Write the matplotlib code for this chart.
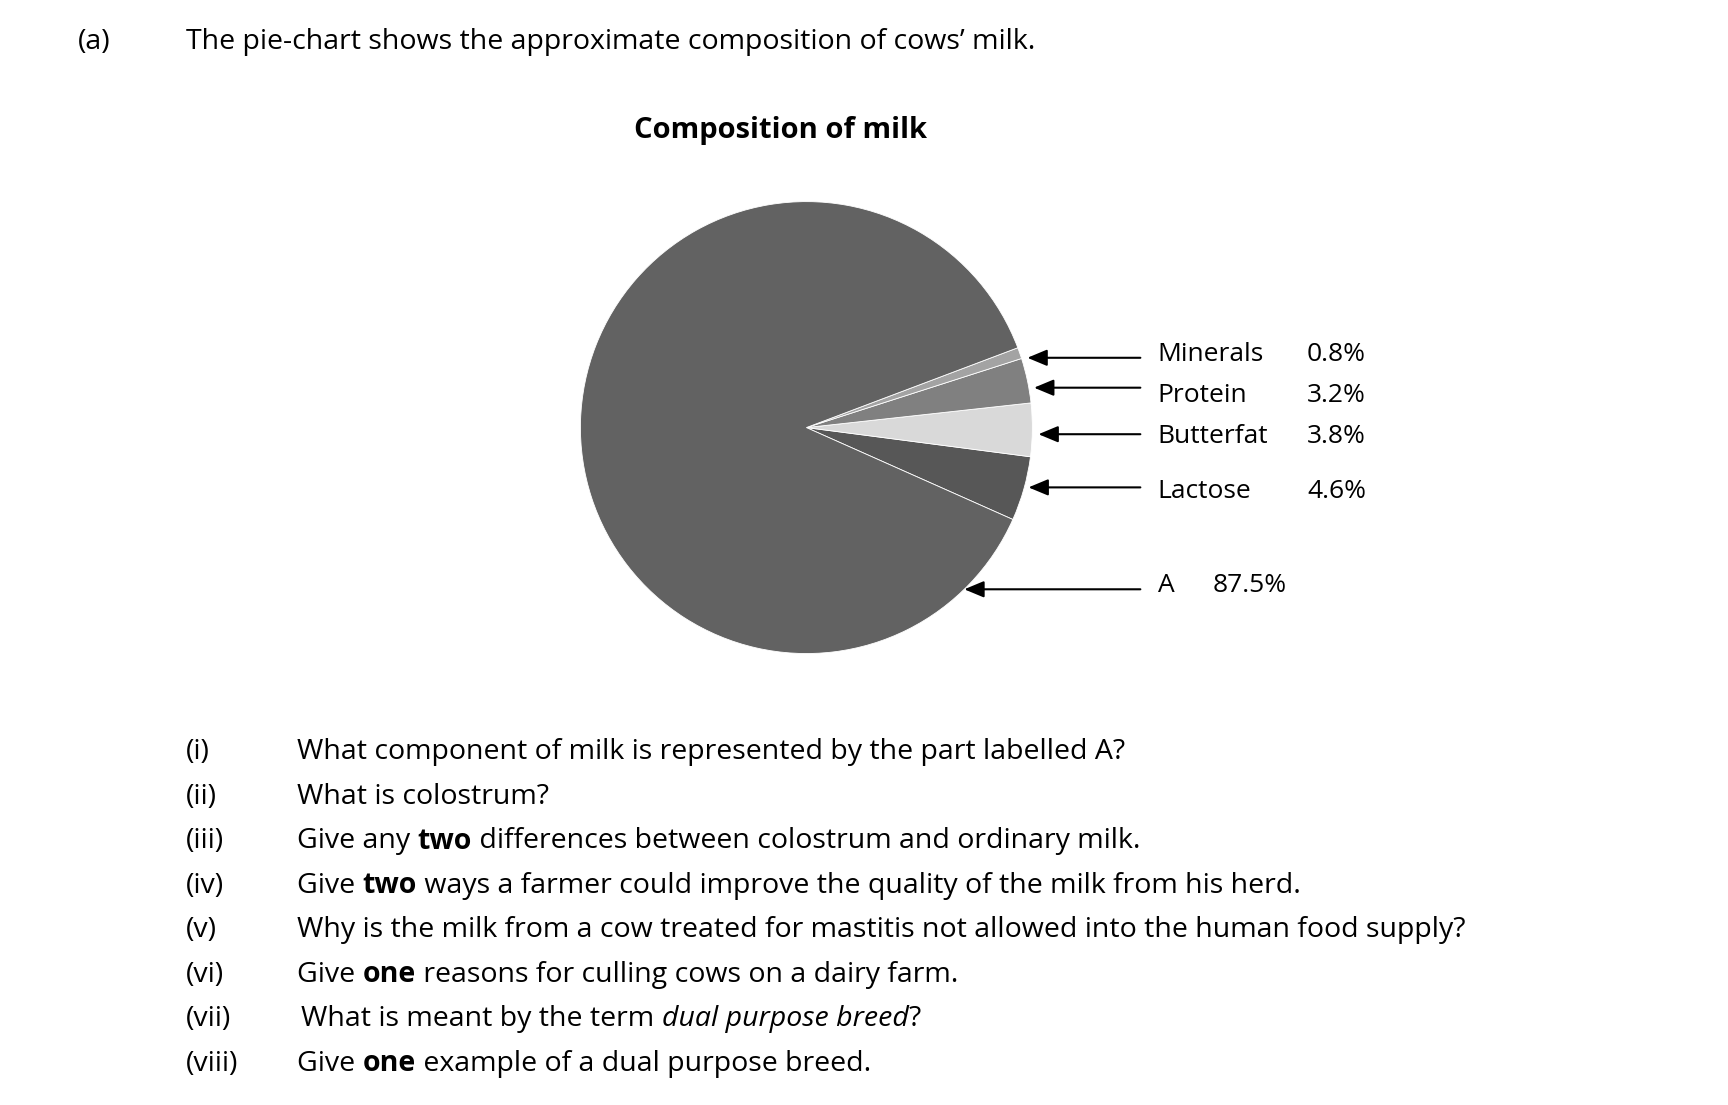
import matplotlib
matplotlib.use("Agg")
import matplotlib.pyplot as plt

components = ["Lactose", "Butterfat", "Protein", "Minerals", "A"]
values = [4.6, 3.8, 3.2, 0.8, 87.5]
colors = ["#575757", "#d9d9d9", "#808080", "#a3a3a3", "#626262"]
label_names = ["Minerals", "Protein", "Butterfat", "Lactose", "A"]
label_pcts = ["0.8%", "3.2%", "3.8%", "4.6%", "87.5%"]
questions = [
    ("(i)", [("What component of milk is represented by the part labelled A?", "normal")]),
    ("(ii)", [("What is colostrum?", "normal")]),
    ("(iii)", [("Give any ", "normal"), ("two", "bold"), (" differences between colostrum and ordinary milk.", "normal")]),
    ("(iv)", [("Give ", "normal"), ("two", "bold"), (" ways a farmer could improve the quality of the milk from his herd.", "normal")]),
    ("(v)", [("Why is the milk from a cow treated for mastitis not allowed into the human food supply?", "normal")]),
    ("(vi)", [("Give ", "normal"), ("one", "bold"), (" reasons for culling cows on a dairy farm.", "normal")]),
    ("(vii)", [("What is meant by the term ", "normal"), ("dual purpose breed", "italic"), ("?", "normal")]),
    ("(viii)", [("Give ", "normal"), ("one", "bold"), (" example of a dual purpose breed.", "normal")]),
]

W, H = 1728, 1105
S = 1728 / 1560
FONT = "Open Sans"
fig = plt.figure(figsize=(W / 100, H / 100), dpi=100)

def P(xd, yd):
    return (xd * S / W, 1 - yd * S / H)

# pie
cx, cy, r = 728, 386, 204
x0, y0 = P(cx - r, cy + r)
ax = fig.add_axes([x0, y0, 2 * r * S / W, 2 * r * S / H])
ax.pie(values, colors=colors, startangle=-24, counterclock=True,
       wedgeprops=dict(edgecolor="white", linewidth=0.6))
ax.set_xlim(-1, 1); ax.set_ylim(-1, 1); ax.set_aspect("equal")
ax.axis("off")

fs = 20.5
fig.text(*P(70, 38), "(a)", fontsize=fs, family=FONT, va="center")
fig.text(*P(168, 38), "The pie-chart shows the approximate composition of cows\u2019 milk.",
         fontsize=fs, family=FONT, va="center")
fig.text(*P(705, 118), "Composition of milk", fontsize=21, family=FONT,
         weight="bold", ha="center", va="center")

label_y = [320, 357, 394, 444, 529]
targets = [(925, 323), (931, 350), (935, 392), (926, 440), (868, 532)]
for name, pct, yy, (tx, ty) in zip(label_names, label_pcts, label_y, targets):
    fig.text(*P(1045, yy), name, fontsize=19, family=FONT, va="center")
    fig.text(*P(1180 if name != "A" else 1095, yy), pct, fontsize=19, family=FONT, va="center")
    fig.add_artist(matplotlib.patches.FancyArrowPatch(
        P(1032, ty), P(tx, ty), transform=fig.transFigure,
        arrowstyle="-|>,head_length=12,head_width=5", color="black", lw=1.5,
        mutation_scale=1))

fig.canvas.draw()
renderer = fig.canvas.get_renderer()
y = 679
for num, segs in questions:
    fig.text(*P(168, y), num, fontsize=fs, family=FONT, va="center")
    xpix = (268 if num != "(vii)" else 272) * S
    for txt, style in segs:
        t = fig.text(xpix / W, 1 - y * S / H, txt, fontsize=fs, family=FONT, va="center",
                     weight="bold" if style == "bold" else "normal",
                     style="italic" if style == "italic" else "normal")
        bb = t.get_window_extent(renderer)
        xpix += bb.width
    y += 40.2

fig.savefig("out.png", dpi=100, facecolor="white")
